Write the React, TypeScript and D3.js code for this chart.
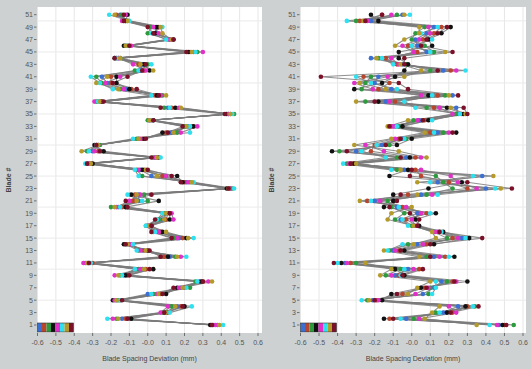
import React from "react";
import * as d3 from "d3";

// blade numbers (rows) and series (one colour per measurement run)
const blades = [
  1, 2, 3, 4, 5, 6, 7, 8, 9, 10, 11, 12, 13, 14, 15, 16, 17, 18, 19, 20, 21, 22, 23, 24, 25, 26,
  27, 28, 29, 30, 31, 32, 33, 34, 35, 36, 37, 38, 39, 40, 41, 42, 43, 44, 45, 46, 47, 48, 49, 50, 51,
];
const seriesColors = ["#3b6fd1", "#b8452c", "#2e9a3e", "#111111", "#e22fc8", "#2fe0f0", "#b39a2a", "#7a1128"];

const yTicks = [1, 3, 5, 7, 9, 11, 13, 15, 17, 19, 21, 23, 25, 27, 29, 31, 33, 35, 37, 39, 41, 43, 45, 47, 49, 51];
const yGrid = [5, 10, 15, 20, 25, 30, 35, 40, 45, 50];
const xTicks = [-0.6, -0.5, -0.4, -0.3, -0.2, -0.1, 0, 0.1, 0.2, 0.3, 0.4, 0.5, 0.6];
const xTickLabels = ["-0.6", "-0.5", "-0.4", "-0.3", "-0.2", "-0.1", "-0.0", "0.1", "0.2", "0.3", "0.4", "0.5", "0.6"];

// deviation per blade (row = blade 1..51, column = series)
const leftDeviation = [
  [0.36, 0.35, 0.38, 0.34, 0.37, 0.41, 0.39, 0.35],
  [-0.14, -0.12, -0.17, -0.09, -0.19, -0.22, -0.16, -0.11],
  [0.09, 0.11, 0.08, 0.1, 0.07, 0.12, 0.1, 0.09],
  [0.16, 0.18, 0.13, 0.2, 0.11, 0.24, 0.15, 0.19],
  [-0.17, -0.15, -0.16, -0.19, -0.18, -0.15, -0.17, -0.14],
  [0.0, 0.07, 0.03, 0.1, 0.05, 0.02, 0.06, 0.08],
  [0.18, 0.2, 0.23, 0.16, 0.17, 0.21, 0.19, 0.14],
  [0.28, 0.3, 0.26, 0.29, 0.33, 0.27, 0.35, 0.3],
  [-0.13, -0.11, -0.15, -0.12, -0.18, -0.14, -0.16, -0.1],
  [-0.03, -0.01, -0.05, 0.03, -0.04, -0.07, -0.02, 0.01],
  [-0.33, -0.3, -0.34, -0.32, -0.35, -0.31, -0.33, -0.32],
  [0.12, 0.09, 0.15, 0.11, 0.18, 0.21, 0.16, 0.07],
  [-0.03, -0.02, -0.05, 0.0, -0.04, -0.06, -0.01, 0.01],
  [-0.11, -0.1, -0.12, -0.13, -0.09, -0.08, -0.11, -0.12],
  [0.17, 0.19, 0.14, 0.21, 0.16, 0.25, 0.22, 0.13],
  [0.05, 0.07, 0.03, 0.08, 0.06, 0.04, 0.1, 0.02],
  [0.0, 0.01, -0.01, 0.02, 0.0, -0.01, 0.01, 0.02],
  [0.08, 0.1, 0.06, 0.12, 0.14, 0.05, 0.09, 0.04],
  [0.1, 0.11, 0.09, 0.12, 0.13, 0.08, 0.1, 0.12],
  [-0.16, -0.14, -0.2, -0.12, -0.17, -0.15, -0.18, -0.11],
  [-0.05, -0.08, 0.0, 0.06, -0.1, -0.03, -0.06, -0.12],
  [-0.05, -0.07, -0.02, -0.09, -0.04, -0.11, -0.06, 0.02],
  [0.45, 0.44, 0.46, 0.43, 0.45, 0.47, 0.44, 0.44],
  [0.21, 0.2, 0.23, 0.19, 0.22, 0.25, 0.24, 0.18],
  [0.02, 0.08, -0.03, 0.16, 0.1, -0.05, 0.05, 0.13],
  [-0.04, -0.02, -0.06, -0.03, -0.05, -0.07, -0.01, 0.0],
  [-0.32, -0.31, -0.33, -0.3, -0.32, -0.34, -0.31, -0.33],
  [0.04, 0.05, 0.03, 0.06, 0.04, 0.07, 0.05, 0.02],
  [-0.3, -0.27, -0.33, -0.24, -0.29, -0.32, -0.36, -0.26],
  [-0.27, -0.28, -0.26, -0.29, -0.27, -0.28, -0.27, -0.28],
  [-0.05, -0.03, -0.06, -0.02, -0.04, -0.08, -0.05, -0.01],
  [0.13, 0.1, 0.16, 0.08, 0.18, 0.23, 0.14, 0.11],
  [0.22, 0.24, 0.2, 0.25, 0.27, 0.23, 0.21, 0.19],
  [0.01, 0.02, 0.0, 0.03, 0.01, 0.02, 0.01, 0.03],
  [0.44, 0.45, 0.47, 0.43, 0.44, 0.46, 0.45, 0.42],
  [0.11, 0.13, 0.09, 0.15, 0.17, 0.12, 0.18, 0.07],
  [-0.27, -0.26, -0.28, -0.25, -0.29, -0.27, -0.26, -0.24],
  [0.06, 0.04, 0.08, 0.05, 0.07, 0.02, 0.1, 0.06],
  [-0.12, -0.09, -0.15, -0.1, -0.13, -0.19, -0.16, -0.06],
  [-0.22, -0.2, -0.25, -0.17, -0.23, -0.26, -0.28, -0.19],
  [-0.25, -0.2, -0.28, -0.17, -0.15, -0.31, -0.22, -0.11],
  [-0.04, -0.02, -0.07, 0.01, -0.01, -0.05, 0.03, -0.03],
  [-0.03, -0.05, 0.0, -0.02, -0.08, 0.02, -0.04, -0.01],
  [-0.16, -0.17, -0.15, -0.18, -0.16, -0.17, -0.15, -0.18],
  [0.25, 0.23, 0.27, 0.22, 0.3, 0.26, 0.24, 0.21],
  [-0.11, -0.1, -0.12, -0.13, -0.09, -0.11, -0.12, -0.1],
  [0.12, 0.13, 0.11, 0.14, 0.12, 0.1, 0.13, 0.14],
  [0.05, 0.03, 0.0, 0.04, 0.06, 0.02, 0.08, 0.03],
  [0.04, 0.06, 0.02, 0.05, 0.03, 0.08, 0.07, 0.0],
  [-0.12, -0.11, -0.13, -0.12, -0.14, -0.1, -0.11, -0.13],
  [-0.15, -0.17, -0.14, -0.11, -0.12, -0.21, -0.18, -0.13],
];

const rightDeviation = [
  [0.47, 0.5, 0.55, 0.49, 0.46, 0.42, 0.35, 0.51],
  [-0.03, -0.12, 0.01, -0.15, 0.04, -0.06, 0.07, -0.1],
  [0.17, 0.22, 0.13, 0.19, 0.24, 0.15, 0.11, 0.21],
  [0.25, 0.3, 0.34, 0.29, 0.2, 0.33, 0.15, 0.36],
  [-0.21, -0.19, -0.24, -0.16, -0.18, -0.27, -0.23, -0.2],
  [0.06, -0.05, 0.09, -0.11, 0.02, 0.11, -0.02, -0.08],
  [0.12, 0.07, 0.1, 0.05, 0.09, 0.13, 0.03, 0.08],
  [0.16, 0.22, 0.19, 0.3, 0.24, 0.13, 0.1, 0.23],
  [-0.09, -0.07, -0.14, -0.04, -0.11, -0.06, -0.17, -0.05],
  [-0.02, 0.04, -0.06, -0.09, 0.01, -0.04, -0.11, 0.06],
  [-0.36, -0.33, -0.3, -0.38, -0.35, -0.4, -0.25, -0.42],
  [0.12, 0.18, 0.08, 0.23, 0.15, 0.2, 0.04, 0.1],
  [-0.1, -0.07, -0.12, -0.04, -0.09, -0.13, -0.15, -0.06],
  [0.03, 0.08, -0.02, 0.12, 0.06, -0.05, 0.01, 0.1],
  [0.27, 0.22, 0.19, 0.31, 0.25, 0.29, 0.13, 0.38],
  [0.14, 0.15, 0.12, 0.17, 0.13, 0.16, 0.11, 0.15],
  [0.01, 0.03, 0.0, 0.04, 0.02, -0.02, 0.01, 0.03],
  [-0.06, -0.03, -0.09, 0.02, 0.0, -0.05, -0.13, 0.04],
  [0.03, 0.08, -0.04, 0.13, 0.05, 0.1, -0.11, -0.01],
  [-0.08, -0.05, -0.11, -0.15, -0.03, -0.07, 0.0, -0.12],
  [-0.2, -0.24, -0.13, -0.1, -0.17, -0.22, -0.28, -0.08],
  [0.05, -0.02, 0.08, -0.1, 0.11, 0.14, 0.03, -0.06],
  [0.4, 0.3, 0.22, 0.09, 0.35, 0.45, 0.48, 0.54],
  [0.14, 0.2, 0.17, 0.27, 0.25, 0.1, 0.03, 0.3],
  [0.38, 0.05, 0.13, -0.12, 0.21, 0.33, 0.44, -0.01],
  [-0.04, 0.02, -0.08, -0.02, 0.05, -0.11, -0.06, 0.0],
  [-0.33, -0.32, -0.35, -0.31, -0.34, -0.37, -0.3, -0.33],
  [-0.03, 0.02, -0.08, -0.01, 0.05, -0.14, 0.08, -0.06],
  [-0.3, -0.22, -0.39, -0.43, -0.15, -0.27, -0.07, -0.35],
  [-0.16, -0.2, -0.12, -0.08, -0.25, -0.19, -0.31, -0.14],
  [-0.05, -0.07, -0.03, 0.0, -0.09, -0.04, -0.11, -0.06],
  [0.14, 0.1, 0.17, 0.24, 0.2, 0.12, 0.07, 0.22],
  [-0.09, -0.11, -0.07, -0.05, -0.1, -0.08, -0.13, -0.12],
  [0.04, 0.07, 0.01, 0.09, 0.03, 0.11, -0.02, 0.06],
  [0.25, 0.27, 0.24, 0.28, 0.22, 0.26, 0.29, 0.3],
  [0.24, 0.12, 0.08, 0.19, 0.15, 0.02, 0.21, 0.28],
  [-0.14, -0.09, -0.25, -0.18, -0.12, -0.04, -0.3, -0.2],
  [0.22, 0.14, 0.18, 0.09, 0.05, 0.11, 0.2, 0.25],
  [-0.11, -0.18, -0.27, -0.31, -0.21, -0.08, -0.14, -0.02],
  [-0.2, -0.12, -0.25, -0.16, -0.31, -0.22, -0.28, -0.07],
  [-0.18, -0.26, -0.22, -0.09, -0.13, -0.3, -0.04, -0.49],
  [0.17, 0.21, 0.1, -0.04, 0.24, 0.29, 0.05, 0.14],
  [-0.05, -0.08, -0.03, -0.02, -0.07, -0.1, -0.06, -0.04],
  [-0.22, -0.14, -0.18, -0.07, -0.11, -0.16, -0.19, -0.04],
  [0.08, 0.03, 0.12, -0.07, 0.01, 0.1, 0.18, 0.22],
  [0.03, -0.02, 0.07, 0.11, -0.05, 0.0, -0.09, 0.05],
  [0.02, 0.06, 0.0, 0.09, 0.04, 0.11, -0.04, 0.08],
  [0.08, 0.12, 0.02, 0.16, 0.1, 0.05, 0.04, 0.14],
  [0.12, 0.16, 0.07, 0.21, 0.09, 0.14, 0.04, 0.19],
  [-0.22, -0.28, -0.3, -0.18, -0.24, -0.35, -0.26, -0.25],
  [-0.05, -0.16, -0.08, -0.22, -0.11, -0.01, -0.04, -0.16],
];

const W = 531;
const H = 369;
const plotTop = 7;
const plotBottom = 333;
const font = "'Liberation Sans Narrow', 'Liberation Sans', Arial, sans-serif";

const Panel = ({ rows, left, right, x0, x1 }) => {
  const x = d3.scaleLinear().domain([-0.6, 0.6]).range([x0, x1]);
  const y = d3.scaleLinear().domain([1, 51]).range([325, 14.7]);
  const line = d3
    .line()
    .x((d) => x(d[0]))
    .y((d) => y(d[1]));

  const series = seriesColors.map((color, s) => ({
    color,
    points: blades.map((b, i) => [rows[i][s], b]),
  }));

  const cx = (left + right) / 2;

  return (
    <g>
      <rect x={left} y={plotTop} width={right - left} height={plotBottom - plotTop} fill="#ffffff" />
      {/* grid */}
      {xTicks.map((t) => (
        <line key={"gx" + t} x1={x(t)} x2={x(t)} y1={plotTop} y2={plotBottom} stroke="#e6e6e6" strokeWidth={1} />
      ))}
      {yGrid.map((t) => (
        <line key={"gy" + t} x1={left} x2={right} y1={y(t)} y2={y(t)} stroke="#eaeaea" strokeWidth={1} />
      ))}
      {/* lines */}
      {series.map((s, i) => (
        <path key={"l" + i} d={line(s.points)} fill="none" stroke="#7b7b7b" strokeWidth={1.1} strokeOpacity={0.85} />
      ))}
      {/* markers */}
      {series.map((s, i) =>
        s.points.map((p, j) => (
          <circle key={"m" + i + "-" + j} cx={x(p[0])} cy={y(p[1])} r={2.3} fill={s.color} />
        ))
      )}
      {/* legend strip */}
      {seriesColors.map((c, i) => (
        <rect key={"lg" + i} x={left + 0.5 + i * 4.5} y={323} width={4.5} height={9} fill={c} />
      ))}
      <rect x={left + 0.5} y={323} width={36} height={9} fill="none" stroke="#333" strokeWidth={0.6} />
      {/* y axis */}
      {yTicks.map((t) => (
        <g key={"yt" + t}>
          <line x1={left - 3} x2={left - 0.5} y1={y(t)} y2={y(t)} stroke="#555" strokeWidth={0.8} />
          <text x={left - 4} y={y(t)} dy="0.35em" textAnchor="end" fontSize={7} fill="#555" fontFamily={font}>
            {t}
          </text>
        </g>
      ))}
      {/* x axis */}
      {xTicks.map((t, i) => (
        <g key={"xt" + t}>
          <line x1={x(t)} x2={x(t)} y1={plotBottom} y2={plotBottom + 3} stroke="#555" strokeWidth={0.8} />
          <text x={x(t)} y={plotBottom + 12} textAnchor="middle" fontSize={7} fill="#555" fontFamily={font}>
            {xTickLabels[i]}
          </text>
        </g>
      ))}
      <text x={cx} y={361} textAnchor="middle" fontSize={7} fill="#444" fontFamily={font}>
        Blade Spacing Deviation (mm)
      </text>
      <text
        transform={`translate(${left - 26},${180}) rotate(-90)`}
        textAnchor="middle"
        fontSize={7}
        fontWeight="bold"
        fill="#444"
        fontFamily={font}
      >
        Blade #
      </text>
    </g>
  );
};

export default function App() {
  return (
    <div style={{ position: "fixed", left: 0, top: 0 }}>
      <svg width={W} height={H} style={{ display: "block" }}>
        <rect x={0} y={0} width={W} height={H} fill="#cdd1d2" />
        <Panel rows={leftDeviation} left={37} right={262} x0={37.5} x1={258} />
        <Panel rows={rightDeviation} left={300} right={526} x0={300.5} x1={523} />
      </svg>
    </div>
  );
}
